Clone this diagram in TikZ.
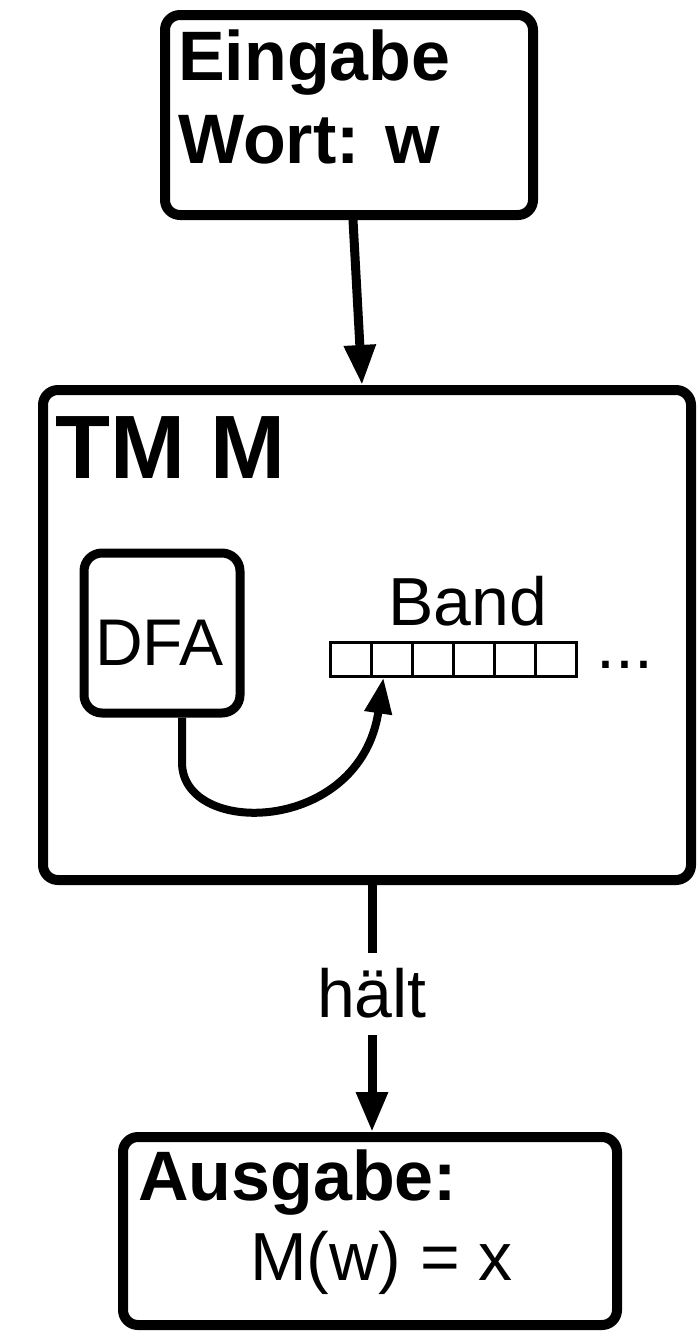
\documentclass[tikz,border=0pt]{standalone}
\usepackage{fontspec}
\setmainfont{Liberation Sans}
\usetikzlibrary{arrows.meta}
\begin{document}
\begin{tikzpicture}[x=1pt,y=-1pt,
  box/.style={draw,line width=10pt,rounded corners=15pt,inner sep=0pt},
  cell/.style={draw,line width=3pt,inner sep=0pt,minimum width=41pt,minimum height=34pt},
  txt/.style={anchor=base west,inner sep=0pt,font=\fontsize{68}{80}\selectfont},
  btxt/.style={txt,font=\fontsize{70}{80}\selectfont\bfseries},
  arr/.style={line width=9pt,-{Triangle[length=40pt,width=30pt]}}]
\useasboundingbox (0,0) rectangle (698,1339);
% boxes
\node[box,minimum width=368pt,minimum height=200pt] (in) at (349,115) {};
\node[box,minimum width=648pt,minimum height=490pt] (tm) at (367,635) {};
\node[box,line width=9pt,rounded corners=18pt,minimum width=156pt,minimum height=160pt] (dfa) at (162,633) {};
\node[box,minimum width=494pt,minimum height=188pt] (out) at (370,1231) {};
% tape cells
\foreach \i in {1,...,6}{
  \node[cell] (cell\i) at ({330+41*(\i-0.5)},659) {};
}
% texts
\node[btxt] (t1) at (178,80) {Eingabe};
\node[btxt] (t2) at (178,163) {Wort: w};
\node[txt,font=\fontsize{90}{100}\selectfont\bfseries] (t3) at (55,478) {TM M};
\node[txt,font=\fontsize{66}{80}\selectfont] (t4) at (95,665) {DFA};
\node[txt] (t5) at (388,625) {Band};
\node[txt] (t6) at (596,668) {...};
\node[btxt] (t7) at (138,1200) {Ausgabe:};
\node[txt] (t8) at (250,1280) {M(w) = x};
% connectors
\draw[arr] ([xshift=4pt]in.south) -- ([xshift=-5pt]tm.north);
\draw[arr] ([xshift=5pt]tm.south) -- ([xshift=2pt]out.north)
  node[pos=0.44,fill=white,inner xsep=4pt,inner ysep=16pt,font=\fontsize{68}{80}\selectfont] (lbl) {hält};
\draw[line width=8pt,-{Triangle[length=36pt,width=26pt]}]
  ([xshift=20pt]dfa.south) -- ++(0,45) .. controls +(0,75) and (360,835) .. ([xshift=-8pt]cell2.south);
\end{tikzpicture}
\end{document}
